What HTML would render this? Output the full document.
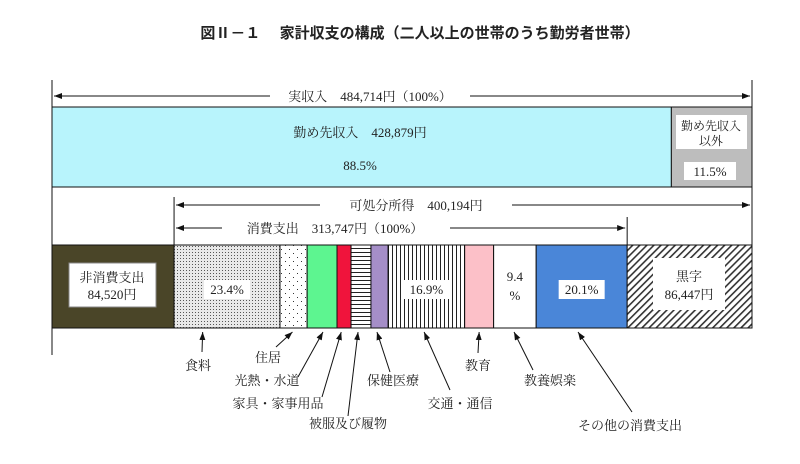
<!DOCTYPE html>
<html><head><meta charset="utf-8"><style>
html,body{margin:0;padding:0;background:#fff}
svg text{font-family:"Liberation Serif","Noto Serif CJK JP","Noto Sans CJK JP",serif;fill:#222}
</style></head><body>
<svg id="c" width="800" height="459" viewBox="0 0 800 459" xmlns="http://www.w3.org/2000/svg">
<defs>
<pattern id="pFood" width="3" height="3" patternUnits="userSpaceOnUse"><rect width="3" height="3" fill="#e8e8e8"/><rect width="1" height="1" fill="#555"/></pattern>
<pattern id="pHouse" width="8" height="8" patternUnits="userSpaceOnUse"><rect width="8" height="8" fill="#fff"/><rect x="1" y="1" width="1" height="1" fill="#333"/><rect x="5" y="5" width="1" height="1" fill="#333"/></pattern>
<pattern id="pCloth" width="4" height="4" patternUnits="userSpaceOnUse"><rect width="4" height="4" fill="#fff"/><rect y="0" width="4" height="1" fill="#222"/></pattern>
<pattern id="pTrans" width="4" height="4" patternUnits="userSpaceOnUse"><rect width="4" height="4" fill="#fff"/><rect width="1" height="4" fill="#222"/></pattern>
<pattern id="pSurp" width="5" height="5" patternUnits="userSpaceOnUse" patternTransform="rotate(45)"><rect width="5" height="5" fill="#fff"/><rect width="1.6" height="5" fill="#333"/></pattern>
<marker id="ar" markerWidth="8" markerHeight="6" refX="8" refY="3" orient="auto" markerUnits="userSpaceOnUse"><path d="M0,0 L8,3 L0,6 z" fill="#111"/></marker>
</defs>
<text x="420" y="38" text-anchor="middle" font-size="15" font-weight="bold" style="font-family:'Liberation Sans','Noto Sans CJK JP',sans-serif">図Ⅱ－１　 家計収支の構成（二人以上の世帯のうち勤労者世帯）</text>
<g id="g"></g>
</svg>
<script>
const totalIncome = 484714;
const workIncome = 428879;
const otherIncome = 55835;
const nonConsumption = 84520;
const disposable = 400194;
const consumption = 313747;
const surplus = 86447;
const categories = ['食料','住居','光熱・水道','家具・家事用品','被服及び履物','保健医療','交通・通信','教育','教養娯楽','その他の消費支出'];
const shares = [23.4,6.0,6.6,3.1,4.4,3.8,16.9,6.4,9.4,20.1];
const shareLabels = ['23.4%','','','','','','16.9%','','9.4','20.1%'];
const fills = ['url(#pFood)','url(#pHouse)','#5df590','#f0143c','url(#pCloth)','#a58ec8','url(#pTrans)','#fcc0c8','#fff','#4a86d8'];
// layout: label centers, arrow tails, arrow head fraction within segment
const labelPos = [[198,365],[268,357],[267,380],[278,403],[348,423],[393,380],[460,403],[478,365],[550,380],[630,425]];
const tailPos = [[202,352],[276,347],[298,377],[322,397],[348,416],[390,372],[450,390],[478,353],[533,370],[632,412]];
const headFrac = [0.27,0.46,0.53,0.3,0.35,0.35,0.47,0.5,0.48,0.46];

const NS='http://www.w3.org/2000/svg', g=document.getElementById('g');
const X0=52, X1=752;
const sx=v=>X0+(X1-X0)*v/totalIncome;
function el(t,a,txt){const e=document.createElementNS(NS,t);for(const k in a)e.setAttribute(k,a[k]);if(txt!==undefined)e.textContent=txt;g.appendChild(e);return e;}
function line(x1,y1,x2,y2,arrow){const l=el('line',{x1,y1,x2,y2,stroke:'#111','stroke-width':1});if(arrow)l.setAttribute('marker-end','url(#ar)');return l;}

const yT=107,hT=80;
let r=el('rect',{x:X0,y:yT,width:sx(workIncome)-X0,height:hT,fill:'#b8f4fc',stroke:'#111'});

r=el('rect',{x:sx(workIncome),y:yT,width:X1-sx(workIncome),height:hT,fill:'#bdbdbd',stroke:'#111'});

el('text',{x:360,y:137,'text-anchor':'middle','font-size':13},'勤め先収入　'+workIncome.toLocaleString()+'円');
el('text',{x:360,y:170,'text-anchor':'middle','font-size':13},(workIncome/totalIncome*100).toFixed(1)+'%');
el('rect',{x:676,y:115,width:71,height:34,fill:'#fff'});
el('text',{x:711,y:130,'text-anchor':'middle','font-size':12},'勤め先収入');
el('text',{x:711,y:145,'text-anchor':'middle','font-size':12},'以外');
el('rect',{x:684,y:162,width:52,height:18,fill:'#fff'});
el('text',{x:710,y:176,'text-anchor':'middle','font-size':13},(otherIncome/totalIncome*100).toFixed(1)+'%');

line(X0,80,X0,355);line(X1,80,X1,245);
line(270,96,X0+2,96,true);line(470,96,X1-2,96,true);
el('text',{x:370,y:101,'text-anchor':'middle','font-size':13},'実収入　'+totalIncome.toLocaleString()+'円（100%）');

const yB=245,hB=83;
const xNC=sx(nonConsumption), xCE=sx(nonConsumption+consumption);
r=el('rect',{x:X0,y:yB,width:xNC-X0,height:hB,fill:'#4a4528',stroke:'#111'});

el('rect',{x:69,y:263,width:87,height:44,fill:'#fff',stroke:'#888'});
el('text',{x:112,y:282,'text-anchor':'middle','font-size':13},'非消費支出');
el('text',{x:112,y:299,'text-anchor':'middle','font-size':13},nonConsumption.toLocaleString()+'円');
let acc=0;
const tot=shares.reduce((a,b)=>a+b,0);
shares.forEach((s,i)=>{
  const xa=xNC+(xCE-xNC)*acc/tot; acc+=s; const xb=xNC+(xCE-xNC)*acc/tot;
  const b=el('rect',{x:xa,y:yB,width:xb-xa,height:hB,fill:fills[i],stroke:'#111'});
  
  
  const cx=(xa+xb)/2;
  if(shareLabels[i]){
    if(i===8){el('text',{x:cx,y:281,'text-anchor':'middle','font-size':13},shareLabels[i]);el('text',{x:cx,y:300,'text-anchor':'middle','font-size':13},'%');}
    else{const w=shareLabels[i].length*8+6;el('rect',{x:cx-w/2,y:280,width:w,height:19,fill:'#fff'});el('text',{x:cx,y:294,'text-anchor':'middle','font-size':13},shareLabels[i]);}
  }
  const [lx,ly]=labelPos[i];
  const t=el('text',{x:lx,y:ly+5,'text-anchor':'middle','font-size':13},categories[i]);
  
  
  const [tx,ty]=tailPos[i];
  const hx=xa+(xb-xa)*headFrac[i];
  line(tx,ty,hx,yB+hB+4,true);
});
r=el('rect',{x:xCE,y:yB,width:X1-xCE,height:hB,fill:'url(#pSurp)',stroke:'#111'});

el('rect',{x:653,y:258,width:72,height:52,fill:'#fff'});
el('text',{x:689,y:281,'text-anchor':'middle','font-size':13},'黒字');
el('text',{x:689,y:299,'text-anchor':'middle','font-size':13},surplus.toLocaleString()+'円');

line(xNC,197,xNC,245);line(xCE,217,xCE,245);
line(320,205,xNC+2,205,true);line(512,205,X1-2,205,true);
el('text',{x:416,y:210,'text-anchor':'middle','font-size':13},'可処分所得　'+disposable.toLocaleString()+'円');
line(222,228,xNC+2,228,true);line(450,228,xCE-2,228,true);
el('text',{x:335,y:233,'text-anchor':'middle','font-size':13},'消費支出　'+consumption.toLocaleString()+'円（100%）');
</script>
</body></html>
